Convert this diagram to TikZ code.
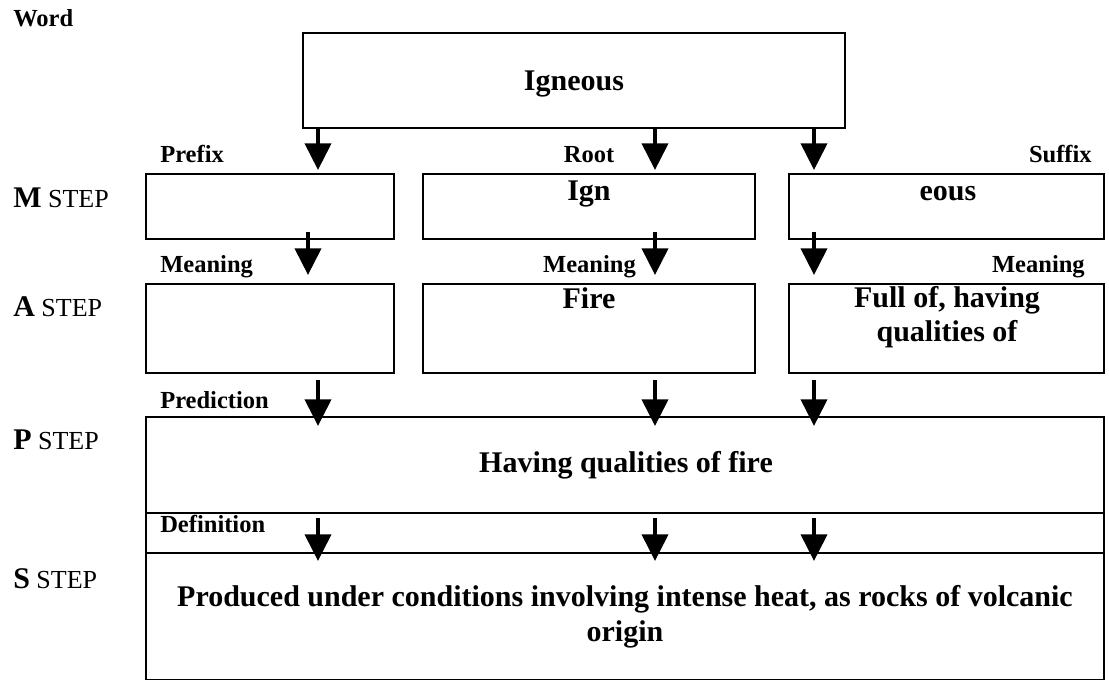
\documentclass[tikz,border=0pt]{standalone}
\usepackage{fontspec}
\setmainfont{Liberation Serif}
\usetikzlibrary{arrows.meta,calc}

\begin{document}
\begin{tikzpicture}[x=0.75pt,y=-0.75pt,
  box/.style n args={2}{draw, line width=1.5pt, inner sep=0pt,
    minimum width=#1*0.75pt, minimum height=#2*0.75pt},
  tag/.style={font=\fontsize{18.4}{22}\selectfont\bfseries, inner sep=0pt},
  body/.style={font=\fontsize{22.5}{26}\selectfont\bfseries, inner sep=0pt, align=center},
  stage/.style={font=\fontsize{19.5}{24}\selectfont, inner sep=0pt, anchor=base west},
  flow/.style={line width=3pt, -{Triangle[width=19.5pt,length=20pt]}}]

\useasboundingbox (0,0) rectangle (1109,680);

% arrow columns
\coordinate (cL) at (318,0);
\coordinate (cL2) at (308,0);
\coordinate (cM) at (655,0);
\coordinate (cR) at (814,0);

% the word
\node[box={542}{95}] (word) at (574,80.5) {};
\node[body, anchor=base] (wordtxt) at (574,91) {Igneous};
\node[tag, anchor=base west] (wordlab) at (13,27) {Word};

% M step: parts of the word
\node[box={248}{65}] (mL) at (270,206.5) {};
\node[box={332}{65}] (mM) at (589,206.5) {};
\node[box={315}{65}] (mR) at (946.5,206.5) {};
\node[body, anchor=base] (mMtxt) at (589,201) {Ign};
\node[body, anchor=base] (mRtxt) at (948,201) {eous};
\node[tag, anchor=base west] (prefix) at (160,163) {Prefix};
\node[tag, anchor=base] (root) at (589,163) {Root};
\node[tag, anchor=base east] (suffix) at (1092,163) {Suffix};
\node[stage] (mstep) at (13,208) {{\fontsize{22.5}{26}\selectfont\bfseries M} STEP};

% A step: meanings of the parts
\node[box={248}{89}] (aL) at (270,328.5) {};
\node[box={332}{89}] (aM) at (589,328.5) {};
\node[box={315}{89}] (aR) at (946.5,328.5) {};
\node[body, anchor=base] (aMtxt) at (589,309) {Fire};
% base anchor of a two-line text sits on its last line
\node[body, anchor=base] (aRtxt) at (947,342) {Full of, having\\qualities of};
\node[tag, anchor=base west] (meanL) at (160,273) {Meaning};
\node[tag, anchor=base] (meanM) at (589.5,273) {Meaning};
\node[tag, anchor=base east] (meanR) at (1085,273) {Meaning};
\node[stage] (astep) at (13,317) {{\fontsize{22.5}{26}\selectfont\bfseries A} STEP};

% P step: prediction
\node[box={958}{96}] (pred) at (625,465) {};
\node[body, anchor=base] (predtxt) at (626,472) {Having qualities of fire};
\node[tag, anchor=base west] (predlab) at (160,408) {Prediction};
\node[stage] (pstep) at (13,450) {{\fontsize{22.5}{26}\selectfont\bfseries P} STEP};

% S step: definition
\node[box={958}{40}] (strip) at (625,533) {};
\node[box={958}{127}] (defn) at (625,616.5) {};
\node[tag, anchor=base west] (deflab) at (160,532) {Definition};
\node[body, anchor=base] (deftxt) at (625,641)
  {Produced under conditions involving intense heat, as rocks of volcanic\\origin};
\node[stage] (sstep) at (13,588) {{\fontsize{22.5}{26}\selectfont\bfseries S} STEP};

% word -> parts
\draw[flow] ([yshift=1.5pt]word.south -| cL) -- ([yshift=2.25pt]mL.north -| cL);
\draw[flow] ([yshift=1.5pt]word.south -| cM) -- ([yshift=2.25pt]mM.north -| cM);
\draw[flow] ([yshift=1.5pt]word.south -| cR) -- ([yshift=2.25pt]mR.north -| cR);

% parts -> meanings
\draw[flow] ([yshift=6pt]mL.south -| cL2) -- ([yshift=6pt]aL.north -| cL2);
\draw[flow] ([yshift=6pt]mM.south -| cM) -- ([yshift=6pt]aM.north -| cM);
\draw[flow] ([yshift=6pt]mR.south -| cR) -- ([yshift=6pt]aR.north -| cR);

% meanings -> prediction
\draw[flow] ([yshift=-4.5pt]aL.south -| cL) -- ([yshift=-7.5pt]pred.north -| cL);
\draw[flow] ([yshift=-4.5pt]aM.south -| cM) -- ([yshift=-7.5pt]pred.north -| cM);
\draw[flow] ([yshift=-4.5pt]aR.south -| cR) -- ([yshift=-7.5pt]pred.north -| cR);

% prediction -> definition
\draw[flow] ([yshift=-3pt]pred.south -| cL) -- ([yshift=-6.75pt]defn.north -| cL);
\draw[flow] ([yshift=-3pt]pred.south -| cM) -- ([yshift=-6.75pt]defn.north -| cM);
\draw[flow] ([yshift=-3pt]pred.south -| cR) -- ([yshift=-6.75pt]defn.north -| cR);
\end{tikzpicture}
\end{document}
